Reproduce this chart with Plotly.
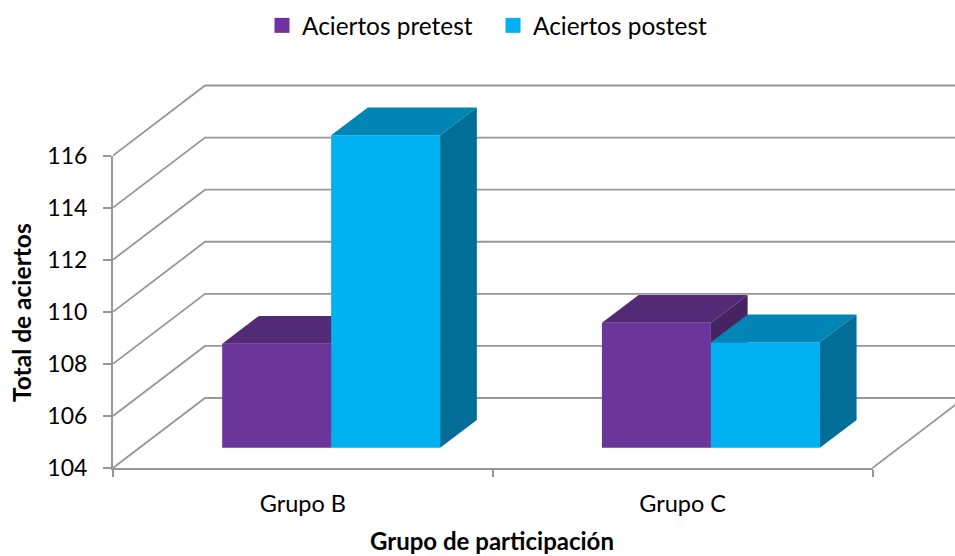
import plotly.graph_objects as go

# Data
groups = ["Grupo B", "Grupo C"]
pretest = [108.0, 108.8]
postest = [116.0, 108.05]
y_ticks = [104, 106, 108, 110, 112, 114, 116]

# Colours per face
PRE = dict(front="#6B359A", top="#532A75", side="#462361", legend="#7030A0")
POST = dict(front="#00B1F1", top="#0085B5", side="#006E96", legend="#00B0F0")
GRID = "#979797"
FONT = "Lato"

# Oblique projection: how one step of depth moves a point, in axis units
WALL_DX, WALL_DY = 0.2423, 2.688
BAR_DX, BAR_DY = 0.0966, 1.064
FRONT_DX, FRONT_DY = 0.0745, 0.776
BAR_WIDTH = 0.287

# Extent of the drawing area in axis units, past the end of the visible axes
X_END = 2
X_MAX = 842 / 379.75
Y_MIN = 104
Y_END = 116
Y_MAX = 104 + 418 / 26.04


def wall_lines():
    xs, ys = [], []
    for v in y_ticks:
        xs += [0, WALL_DX, X_MAX, None]
        ys += [v, v + WALL_DY, v + WALL_DY, None]
    # right-hand edge of the floor
    xs += [X_END, X_END + WALL_DX]
    ys += [Y_MIN, Y_MIN + WALL_DY]
    return xs, ys


def face(xs, ys, color, xaxis, yaxis):
    return go.Scatter(
        x=xs, y=ys, mode="lines", fill="toself", fillcolor=color,
        line=dict(width=0, color=color), showlegend=False, hoverinfo="skip",
        xaxis=xaxis, yaxis=yaxis,
    )


def add_series(fig, name, values, first, colors, xaxis, yaxis):
    """One bar per group: a real bar for the front, polygons for top and side."""
    lefts = [i + 0.5 + FRONT_DX - (BAR_WIDTH if first else 0) for i in range(len(values))]
    fig.add_trace(go.Bar(
        x=[l + BAR_WIDTH / 2 for l in lefts],
        y=[v - Y_MIN for v in values],
        base=Y_MIN + FRONT_DY,
        width=BAR_WIDTH,
        marker=dict(color=colors["front"], line=dict(width=0)),
        name=name, showlegend=False, xaxis=xaxis, yaxis=yaxis,
    ))
    for l, v in zip(lefts, values):
        r = l + BAR_WIDTH
        top = v + FRONT_DY
        bottom = Y_MIN + FRONT_DY
        fig.add_trace(face(
            [l, r, r + BAR_DX, l + BAR_DX, l],
            [top, top, top + BAR_DY, top + BAR_DY, top],
            colors["top"], xaxis, yaxis))
        fig.add_trace(face(
            [r, r + BAR_DX, r + BAR_DX, r, r],
            [bottom, bottom + BAR_DY, top + BAR_DY, top, bottom],
            colors["side"], xaxis, yaxis))


fig = go.Figure()

# Legend entries sit on the visible axes
for name, colors in (("Aciertos pretest", PRE), ("Aciertos postest", POST)):
    fig.add_trace(go.Scatter(
        x=[None], y=[None], mode="markers", name=name,
        marker=dict(symbol="square", size=15, color=colors["legend"], line=dict(width=0)),
    ))

wx, wy = wall_lines()
fig.add_trace(go.Scatter(
    x=wx, y=wy, mode="lines", line=dict(color=GRID, width=1.8),
    showlegend=False, hoverinfo="skip", xaxis="x2", yaxis="y2",
))

add_series(fig, "Aciertos pretest", pretest, True, PRE, "x3", "y3")
add_series(fig, "Aciertos postest", postest, False, POST, "x4", "y4")

hidden = dict(visible=False, fixedrange=True)
fig.update_layout(
    width=955, height=556,
    margin=dict(l=113, r=0, t=50, b=88, pad=0),
    paper_bgcolor="white", plot_bgcolor="rgba(0,0,0,0)",
    font=dict(family=FONT, size=23, color="#000000"),
    barmode="overlay",
    showlegend=True,
    legend=dict(
        orientation="h", x=(262 - 113) / 842, xanchor="left",
        y=1 + (50 - 3) / 418, yanchor="top",
        entrywidth=186, entrywidthmode="pixels",
        font=dict(family=FONT, size=24.4), itemclick=False, itemdoubleclick=False,
    ),
    # The visible axes only span the front of the chart
    xaxis=dict(
        domain=[0, X_END / X_MAX], range=[0, X_END], showgrid=False, zeroline=False,
        showline=True, linecolor=GRID, linewidth=2,
        tickmode="array", tickvals=[0.5, 1.5], ticktext=groups,
        ticks="", ticklabelstandoff=14,
        tickfont=dict(family=FONT, size=23.5),
        minor=dict(tickmode="array", tickvals=[0, 1, 2], ticks="outside",
                   ticklen=7, tickwidth=2, tickcolor=GRID, showgrid=False),
    ),
    yaxis=dict(
        domain=[0, (Y_END - Y_MIN) / (Y_MAX - Y_MIN)], range=[Y_MIN, Y_END],
        showgrid=False, zeroline=False,
        showline=True, linecolor=GRID, linewidth=2,
        tickmode="array", tickvals=y_ticks, ticks="outside",
        ticklen=8, tickwidth=2, tickcolor=GRID, ticklabelstandoff=11,
        tickfont=dict(family=FONT, size=23),
    ),
    # Walls and bars are projected on hidden axes covering the whole area
    xaxis2=dict(domain=[0, 1], range=[0, X_MAX], anchor="y2", **hidden),
    yaxis2=dict(domain=[0, 1], range=[Y_MIN, Y_MAX], anchor="x2", **hidden),
    xaxis3=dict(range=[0, X_MAX], overlaying="x2", anchor="y3", **hidden),
    yaxis3=dict(range=[Y_MIN, Y_MAX], overlaying="y2", anchor="x3", **hidden),
    xaxis4=dict(range=[0, X_MAX], overlaying="x2", anchor="y4", **hidden),
    yaxis4=dict(range=[Y_MIN, Y_MAX], overlaying="y2", anchor="x4", **hidden),
    annotations=[
        dict(text="<b>Total de aciertos</b>", xref="paper", yref="paper",
             x=(21 - 113) / 842, y=(468 - 313) / 418, textangle=-90,
             xanchor="center", yanchor="middle",
             showarrow=False, font=dict(family=FONT, size=24.5)),
        dict(text="<b>Grupo de participación</b>", xref="paper", yref="paper",
             x=(492 - 113) / 842, y=(468 - 540.5) / 418,
             xanchor="center", yanchor="middle",
             showarrow=False, font=dict(family=FONT, size=24)),
    ],
)

fig.write_html("out.html", config={"displayModeBar": False})
